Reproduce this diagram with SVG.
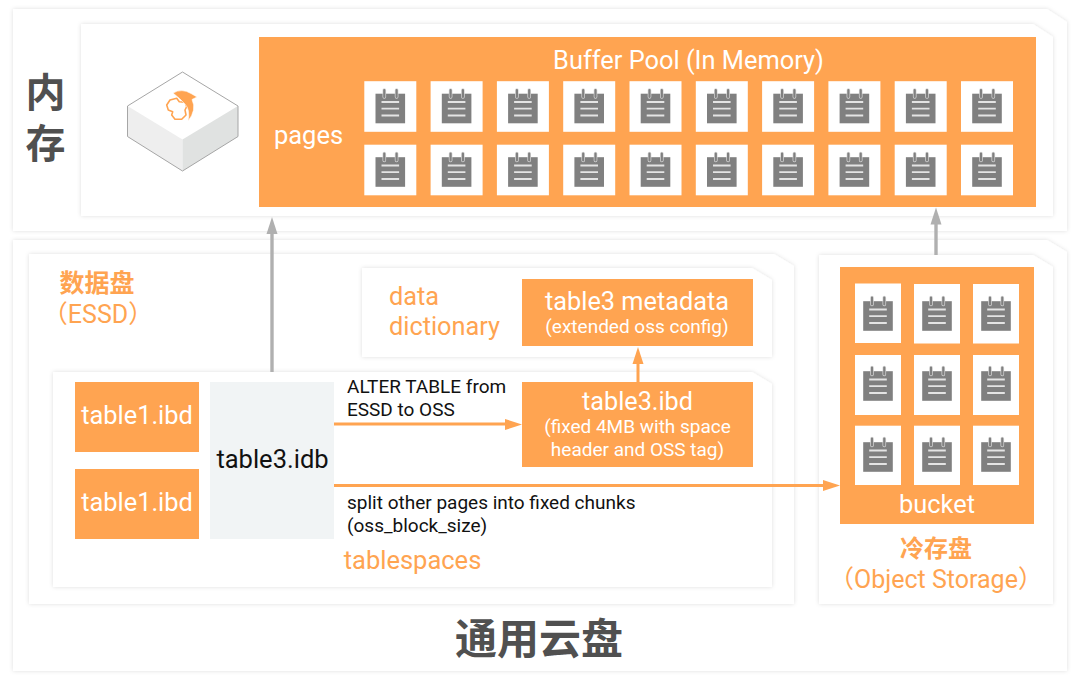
<svg xmlns="http://www.w3.org/2000/svg" xmlns:xlink="http://www.w3.org/1999/xlink" width="1080" height="681" viewBox="0 0 1080 681">
  <style>
    text { font-family: Roboto, "Noto Sans CJK SC", sans-serif; }
    .panel { fill: #fff; filter: url(#soft); }
    .box { fill: #ffa451; }
    .wt { fill: #fff; text-anchor: middle; }
    .or { fill: #ffa451; }
    .bk { fill: #111; }
    .tile { fill: #fff; }
    .cjk { font-family: "Noto Sans CJK SC", sans-serif; font-weight: 700; }
    .hd { fill: #505050; text-anchor: middle; }
    .gl { stroke: #b0b0b0; stroke-width: 3.4; fill: none; }
    .ol { stroke: #ffa451; stroke-width: 3; fill: none; }
  </style>
  <defs>
    <filter id="soft" x="-5%" y="-5%" width="110%" height="110%">
      <feDropShadow dx="0" dy="0" stdDeviation="2" flood-color="#000" flood-opacity="0.13"/>
    </filter>
    <!-- notepad glyph, centred on its body -->
    <g id="note">
      <rect x="-14.800" y="-14.800" width="29.600" height="29.600" fill="#808080"/>
      <path d="M-6 -11.500V-18.500M6.300 -11.500V-18.500" stroke="#d8d8d8" stroke-width="3.600" stroke-linecap="round" fill="none"/>
      <path d="M-6 -11.500V-18.500M6.300 -11.500V-18.500" stroke="#808080" stroke-width="2.200" stroke-linecap="round" fill="none"/>
      <path d="M-8.800 -6.500H8.800M-8.800 0.200H8.800M-8.800 7H8.800" stroke="#e4e4e4" stroke-width="1.800" fill="none"/>
    </g>
    <g id="tile">
      <rect class="tile" x="-26" y="-25.300" width="52" height="50.600"/>
      <use xlink:href="#note" href="#note" y="2"/>
    </g>
  </defs>

  <rect width="1080" height="681" fill="#fff"/>

  <g id="memory-panel">
    <path class="panel" d="M13 9H1047L1067 22V231H13Z"/>
    <text class="cjk" fill="#505050" x="45.500" y="72" font-size="40" letter-spacing="11" style="writing-mode: vertical-rl">内存</text>
  </g>
  <g id="memory-inner">
    <path class="panel" d="M81 24H1033L1053 37V216H81Z"/>
  </g>

  <g id="instance-cube">
    <path d="M182.500 72L238 106V136.500L182.500 171L127.500 136.500V106Z" fill="#fff"/>
    <path d="M127.500 106L182.500 139.500V171L127.500 136.500Z" fill="#eeeeee"/>
    <path d="M238 106L182.500 139.500V171L238 136.500Z" fill="#e0e2e1"/>
    <path d="M182.500 72L238 106V136.500L182.500 171L127.500 136.500V106Z" fill="none" stroke="#a6a6a6" stroke-width="1"/>
    <path d="M170 100L176.700 98.300L179.300 101.700L185 102.300L186.700 106.700L185 110L186 115L181.700 119.300H175L171.700 115L172.700 111.700L168.300 110L166.700 105Z" fill="none" stroke="#ffa451" stroke-width="1.600" stroke-linejoin="round"/>
    <path d="M173 93Q182 88 191 93.500L197 97L192 99.500Q197 110 188 121Q190.500 110 185 104Q180 98.500 173 93Z" fill="#ffa451" stroke="#fff" stroke-width="0.600"/>
  </g>

  <g id="buffer-pool">
    <rect class="box" x="259" y="37" width="777" height="170"/>
    <text class="wt" x="688.500" y="69" font-size="25.400">Buffer Pool (In Memory)</text>
    <text class="wt" x="308.500" y="144" font-size="25.500">pages</text>
    <g id="buffer-pool-pages">
      <use href="#tile" x="390.300" y="106.500"/><use href="#tile" x="456.600" y="106.500"/><use href="#tile" x="522.900" y="106.500"/><use href="#tile" x="589.200" y="106.500"/><use href="#tile" x="655.500" y="106.500"/><use href="#tile" x="721.800" y="106.500"/><use href="#tile" x="788.100" y="106.500"/><use href="#tile" x="854.400" y="106.500"/><use href="#tile" x="920.700" y="106.500"/><use href="#tile" x="987" y="106.500"/>
      <use href="#tile" x="390.300" y="170"/><use href="#tile" x="456.600" y="170"/><use href="#tile" x="522.900" y="170"/><use href="#tile" x="589.200" y="170"/><use href="#tile" x="655.500" y="170"/><use href="#tile" x="721.800" y="170"/><use href="#tile" x="788.100" y="170"/><use href="#tile" x="854.400" y="170"/><use href="#tile" x="920.700" y="170"/><use href="#tile" x="987" y="170"/>
    </g>
  </g>

  <g id="cloud-disk-panel">
    <path class="panel" d="M13 240H1047L1067 252V671H13Z"/>
    <text class="cjk hd" x="539" y="654" font-size="42">通用云盘</text>
  </g>

  <g id="data-disk">
    <path class="panel" d="M29 254H774L794 266V604H29Z"/>
    <text class="cjk or" x="97" y="292" font-size="25" text-anchor="middle">数据盘</text>
    <text class="or" x="98" y="323" font-size="25" text-anchor="middle">（ESSD）</text>
  </g>

  <g id="data-dictionary">
    <path class="panel" d="M362 268H752L772 280V357H362Z"/>
    <text class="or" x="389" y="305" font-size="25.300">data</text>
    <text class="or" x="389" y="335" font-size="25.300">dictionary</text>
  </g>

  <g id="table3-metadata">
    <rect class="box" x="522" y="279" width="231" height="67"/>
    <text class="wt" x="637" y="310" font-size="25.300">table3 metadata</text>
    <text class="wt" x="637" y="333" font-size="19">(extended oss config)</text>
  </g>

  <g id="tablespaces">
    <path class="panel" d="M53 372H752L772 384V587H53Z"/>
    <text class="or" x="412.500" y="569" font-size="25.500" text-anchor="middle">tablespaces</text>
  </g>

  <g id="table1-a">
    <rect class="box" x="75" y="382" width="124" height="70"/>
    <text class="wt" x="137" y="424" font-size="25.400">table1.ibd</text>
  </g>
  <g id="table1-b">
    <rect class="box" x="75" y="469" width="124" height="70"/>
    <text class="wt" x="137" y="511" font-size="25.400">table1.ibd</text>
  </g>
  <g id="table3-idb">
    <rect x="210" y="382" width="124" height="157" fill="#f1f4f5"/>
    <text class="bk" x="272.500" y="468" font-size="25.500" text-anchor="middle">table3.idb</text>
  </g>
  <g id="table3-ibd">
    <rect class="box" x="522" y="382" width="231" height="85"/>
    <text class="wt" x="637.500" y="410" font-size="25.200">table3.ibd</text>
    <text class="wt" x="637.500" y="433" font-size="19">(fixed 4MB with space</text>
    <text class="wt" x="637.500" y="456" font-size="19">header and OSS tag)</text>
  </g>

  <g id="cold-disk">
    <path class="panel" d="M819 255H1033L1053 267V604H819Z"/>
    <rect class="box" x="840" y="267" width="194" height="257"/>
    <rect class="tile" x="855" y="283.500" width="46" height="59.500"/><rect class="tile" x="914" y="284" width="46" height="59.500"/><rect class="tile" x="973" y="284" width="46" height="59.500"/>
    <rect class="tile" x="855" y="355" width="46" height="60"/><rect class="tile" x="914" y="355" width="46" height="60"/><rect class="tile" x="973" y="355" width="46" height="60"/>
    <rect class="tile" x="855" y="425.700" width="46" height="59.300"/><rect class="tile" x="914" y="425.700" width="46" height="59.300"/><rect class="tile" x="973" y="425.700" width="46" height="59.300"/>
    <use href="#note" x="878" y="316"/><use href="#note" x="937" y="316"/><use href="#note" x="996" y="316"/>
    <use href="#note" x="878" y="386"/><use href="#note" x="937" y="386"/><use href="#note" x="996" y="386"/>
    <use href="#note" x="878" y="457"/><use href="#note" x="937" y="457"/><use href="#note" x="996" y="457"/>
    <text class="wt" x="937" y="513" font-size="25.400">bucket</text>
    <text class="cjk or" x="936" y="557" font-size="24" text-anchor="middle">冷存盘</text>
    <text class="or" x="936" y="588" font-size="25" text-anchor="middle">（Object Storage）</text>
  </g>

  <g id="connectors">
    <path class="gl" d="M272 372V232"/>
    <path d="M272 217L266.500 234H277.500Z" fill="#b0b0b0"/>
    <path class="gl" d="M936 255V222"/>
    <path d="M936 207.500L930.500 224.500H941.500Z" fill="#b0b0b0"/>
    <path class="ol" d="M334 424H508"/>
    <path d="M522 424.500L505 419V430Z" fill="#ffa451"/>
    <path class="ol" d="M334 485.500H826"/>
    <path d="M840 485.500L823 480V491Z" fill="#ffa451"/>
    <path class="ol" d="M638 382V360"/>
    <path d="M638 347L632.500 364H643.500Z" fill="#ffa451"/>
  </g>

  <g id="connector-labels" font-size="19">
    <text class="bk" x="347" y="393">ALTER TABLE from</text>
    <text class="bk" x="347" y="416">ESSD to OSS</text>
    <text class="bk" x="347" y="509">split other pages into fixed chunks</text>
    <text class="bk" x="347" y="532">(oss_block_size)</text>
  </g>
</svg>
